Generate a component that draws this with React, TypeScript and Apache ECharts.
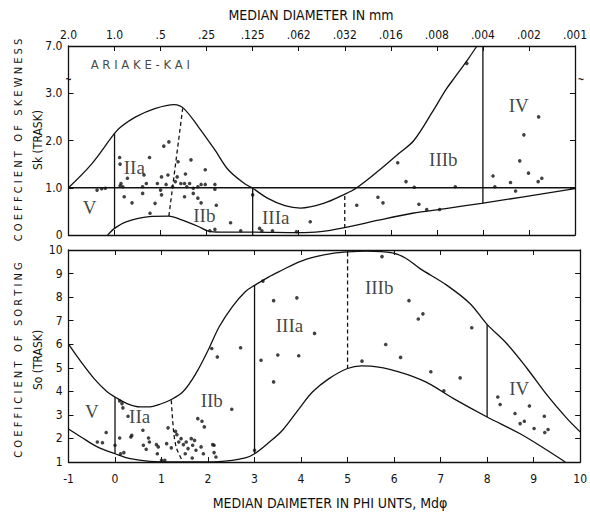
import React, { useEffect, useRef } from 'react';
import * as echarts from 'echarts';

// ---------- tick labels ----------
const phiLabels = ['-1', '0', '1', '2', '3', '4', '5', '6', '7', '8', '9', '10'];
const mmLabels = ['2.0', '1.0', '.5', '.25', '.125', '.062', '.032', '.016', '.008', '.004', '.002', '.001'];
const skTickLabels = ['0', '1.0', '2.0', '3.0', '7.0'];

// ---------- skewness panel (Sk, Trask) ----------
const skUpper = [
  [-1, 1.0], [-0.5, 1.5], [0, 2.15], [0.14, 2.29], [0.46, 2.5], [0.89, 2.68], [1.3, 2.76], [1.5, 2.68],
  [1.82, 2.29], [2.18, 1.8], [2.47, 1.38], [2.82, 1.09], [3.0, 0.99], [3.32, 0.78], [3.7, 0.62], [4.04, 0.57],
  [4.54, 0.67], [4.97, 0.85], [5.26, 1.0], [5.76, 1.38], [6.18, 1.73], [6.5, 2.0], [6.9, 2.6], [7.19, 3.27],
  [7.4, 4.4], [7.69, 5.96], [7.87, 7.0],
];
const skLower = [
  [-0.15, 0], [0, 0.14], [0.25, 0.28], [0.75, 0.39], [1.18, 0.4], [1.46, 0.32], [1.82, 0.18], [2.04, 0.08],
  [2.3, 0.06], [3.0, 0.06], [3.97, 0.05], [4.47, 0.07], [4.97, 0.15], [5.76, 0.32], [6.47, 0.46], [7.19, 0.56],
  [7.97, 0.67], [10, 0.98],
];
const skUnity = [[-1, 1.0], [10, 1.0]];
const skSolidDividers = [
  [[0, 0.14], [0, 2.15]],
  [[3, 0], [3, 0.99]],
  [[8, 0.67], [8, 7.0]],
];
const skDashedDividers = [
  [[5, 0.15], [5, 0.85]],
  [[1.18, 0.4], [1.48, 2.68]],
];
const skPoints = [
  [-0.38, 0.95], [-0.28, 0.98], [-0.2, 0.99], [0.11, 1.64], [0.12, 1.5], [0.14, 1.09], [0.12, 1.04], [0.18, 1.02],
  [0.28, 1.2], [0.21, 0.81], [0.38, 0.68], [0.76, 1.64], [0.64, 1.27], [0.61, 1.02], [0.69, 1.09], [0.61, 0.88],
  [0.88, 0.67], [0.77, 0.46], [0.93, 1.09], [1.02, 1.23], [1.0, 0.95], [1.02, 0.85], [1.07, 1.88], [1.18, 1.97],
  [1.12, 1.07], [1.16, 1.27], [1.26, 1.02], [1.32, 1.13], [1.38, 1.55], [1.36, 1.23], [1.66, 1.59], [1.54, 1.29],
  [1.44, 1.09], [1.52, 1.09], [1.57, 1.02], [1.63, 1.09], [1.71, 0.99], [1.52, 0.81], [1.71, 0.88], [1.81, 0.78],
  [1.88, 0.68], [1.81, 1.02], [1.88, 1.07], [1.97, 1.38], [1.97, 1.07], [2.18, 1.07], [2.18, 0.97], [2.21, 0.63],
  [2.52, 0.26], [2.74, 0.09], [2.18, 0.12], [2.07, 0.09], [3.0, 0.85], [3.15, 0.14], [3.2, 0.09], [3.43, 0.09],
  [3.95, 0.07], [4.25, 0.28], [5.26, 0.63], [5.72, 0.8], [5.83, 0.68], [6.15, 1.53], [6.33, 1.13], [6.51, 1.01],
  [6.61, 0.65], [6.78, 0.54], [7.06, 0.54], [7.4, 1.02], [7.65, 5.53], [8.22, 1.25], [8.26, 1.02], [8.6, 1.11],
  [8.71, 0.93], [8.8, 1.57], [8.89, 2.12], [8.99, 1.31], [9.21, 2.5], [9.2, 1.13], [9.28, 1.2],
];
const skRegions = [
  { name: 'V', phi: -0.54, sk: 0.59 },
  { name: 'IIa', phi: 0.43, sk: 1.42 },
  { name: 'IIb', phi: 1.95, sk: 0.42 },
  { name: 'IIIa', phi: 3.5, sk: 0.38 },
  { name: 'IIIb', phi: 7.14, sk: 1.59 },
  { name: 'IV', phi: 8.78, sk: 2.75 },
];
const skSiteLabel = { name: 'ARIAKE-KAI', phi: 0.56, sk: 5.4 };

// ---------- sorting panel (So, Trask) ----------
const soUpper = [
  [-1, 6.0], [-0.73, 5.25], [-0.45, 4.54], [-0.17, 3.98], [0, 3.76], [0.26, 3.48], [0.54, 3.34], [0.75, 3.34],
  [0.96, 3.45], [1.18, 3.62], [1.46, 3.98], [1.74, 4.76], [2.02, 5.82], [2.24, 6.74], [2.52, 7.59], [2.8, 8.23],
  [3.0, 8.5], [3.3, 8.85], [3.6, 9.15], [3.96, 9.5], [4.32, 9.72], [4.68, 9.86], [5, 9.92], [5.4, 9.95],
  [5.96, 9.88], [6.25, 9.65], [6.55, 9.22], [7.13, 8.51], [7.63, 7.73], [8, 6.84], [8.42, 6.03], [8.86, 4.97],
  [9.29, 3.84], [9.72, 2.84], [10, 2.28],
];
const soLower = [
  [-1, 2.4], [-0.73, 2.06], [-0.38, 1.64], [0, 1.35], [0.33, 1.14], [0.75, 1.03], [1.3, 1.0], [2.0, 1.0],
  [2.52, 1.07], [2.8, 1.17], [3.0, 1.35], [3.32, 1.85], [3.6, 2.35], [3.96, 3.27], [4.25, 3.98], [4.6, 4.54],
  [5, 4.97], [5.3, 5.08], [5.5, 5.07], [6.1, 4.83], [6.68, 4.4], [7.27, 3.7], [8, 2.91], [8.71, 2.2],
  [9.29, 1.5], [9.68, 1.0],
];
const soSolidDividers = [
  [[0, 1.35], [0, 3.76]],
  [[3, 1.35], [3, 8.5]],
  [[8, 2.91], [8, 6.84]],
];
const soDashedDividers = [
  [[5, 4.97], [5, 9.92]],
  [[1.21, 3.62], [1.26, 2.3], [1.32, 1.6], [1.46, 1.0]],
];
const soPoints = [
  [-0.38, 1.85], [-0.27, 1.82], [-0.19, 2.25], [0, 1.71], [0.1, 3.59], [0.15, 3.48], [0.17, 3.3], [0.28, 2.94],
  [0.1, 2.02], [0.12, 1.35], [0.19, 1.4], [0.34, 2.06], [0.36, 2.13], [0.6, 2.35], [0.61, 1.71], [0.72, 2.02],
  [0.74, 1.85], [0.67, 1.54], [0.89, 1.74], [0.93, 1.64], [0.91, 1.35], [1.0, 1.07], [1.07, 1.07], [1.11, 1.78],
  [1.14, 2.45], [1.21, 1.6], [1.3, 2.3], [1.33, 2.16], [1.37, 1.85], [1.42, 1.99], [1.47, 1.74], [1.53, 1.85],
  [1.57, 1.57], [1.51, 1.35], [1.64, 1.99], [1.67, 1.71], [1.71, 1.92], [1.74, 1.5], [1.66, 1.17], [1.78, 2.84],
  [1.87, 2.73], [1.92, 2.49], [1.85, 1.64], [1.9, 1.35], [2.1, 1.74], [2.13, 1.71], [2.13, 1.4], [2.17, 1.21],
  [2.08, 5.82], [2.2, 5.46], [2.51, 3.24], [2.7, 5.85], [3.0, 1.5], [3.18, 8.68], [3.14, 5.32], [3.41, 7.85],
  [3.5, 5.54], [3.41, 4.4], [3.91, 7.97], [3.95, 5.51], [4.29, 6.46], [5.31, 5.28], [5.74, 9.72], [5.82, 5.99],
  [6.14, 5.44], [6.32, 7.85], [6.52, 7.07], [6.62, 7.29], [6.79, 4.83], [7.07, 4.02], [7.42, 4.57], [7.67, 6.7],
  [8.23, 3.76], [8.28, 3.44], [8.6, 3.06], [8.71, 2.63], [8.8, 2.73], [8.91, 3.38], [9.01, 2.42], [9.23, 2.94],
  [9.24, 2.25], [9.31, 2.38],
];
const soRegions = [
  { name: 'V', phi: -0.5, so: 3.13 },
  { name: 'IIa', phi: 0.53, so: 2.92 },
  { name: 'IIb', phi: 2.08, so: 3.63 },
  { name: 'IIIa', phi: 3.75, so: 6.81 },
  { name: 'IIIb', phi: 5.68, so: 8.39 },
  { name: 'IV', phi: 8.69, so: 4.14 },
];

// broken axis: 0..3 linear, 3..7 compressed into one unit
const skAxis = (v: number) => (v <= 3 ? v : 3 + (v - 3) / 4);
const skPt = (p: number[]) => [p[0], skAxis(p[1])];

const INK = '#111111';
const NARROW = '"DejaVu Sans Condensed", "Liberation Sans Narrow", "Roboto", sans-serif';
const SERIF = '"Liberation Serif", "DejaVu Serif", serif';

const spaced = (s: string) => s.split('').join(' ');

export default function App() {
  const ref = useRef<HTMLDivElement>(null);

  useEffect(() => {
    if (!ref.current) return;
    const chart = echarts.init(ref.current, undefined, { renderer: 'svg' });

    const axisLine = { show: true, onZero: false, lineStyle: { color: INK, width: 1.3 } };
    const axisTick = { show: true, inside: true, length: 5, lineStyle: { color: INK, width: 1 } };
    const labelStyle = { color: INK, fontFamily: NARROW, fontSize: 12 };
    const xBase: any = {
      type: 'value', min: -1, max: 10, interval: 1, axisLine, axisTick,
      splitLine: { show: false }, axisLabel: { show: false },
    };
    const regionLabel = {
      show: true, position: 'inside', formatter: '{b}', color: INK,
      fontFamily: SERIF, fontSize: 19, align: 'center', verticalAlign: 'middle',
    };

    const lineSeries = (data: number[][], xi: number, yi: number, opts: any = {}) => ({
      type: 'line', xAxisIndex: xi, yAxisIndex: yi, data, symbol: 'none', silent: true,
      lineStyle: { color: INK, width: 1.3, type: opts.dashed ? [4, 3] : 'solid' },
      smooth: opts.smooth ?? false, z: 3,
    });

    const series: any[] = [
      lineSeries(skUpper.map(skPt), 0, 0, { smooth: 0.35 }),
      lineSeries(skLower.map(skPt), 0, 0, { smooth: 0.3 }),
      lineSeries(skUnity.map(skPt), 0, 0),
      ...skSolidDividers.map((d) => lineSeries(d.map(skPt), 0, 0)),
      ...skDashedDividers.map((d) => lineSeries(d.map(skPt), 0, 0, { dashed: true })),
      {
        type: 'scatter', xAxisIndex: 0, yAxisIndex: 0, data: skPoints.map(skPt),
        symbol: 'circle', symbolSize: 3.6, itemStyle: { color: INK }, z: 4,
      },
      {
        type: 'scatter', xAxisIndex: 0, yAxisIndex: 0, symbolSize: 0, silent: true,
        data: skRegions.map((r) => ({ name: r.name, value: [r.phi, skAxis(r.sk)] })),
        label: regionLabel,
        z: 5,
      },
      {
        type: 'scatter', xAxisIndex: 0, yAxisIndex: 0, symbolSize: 0, silent: true,
        data: [{ name: skSiteLabel.name, value: [skSiteLabel.phi, skAxis(skSiteLabel.sk)] }],
        label: {
          show: true, position: 'inside', align: 'center', verticalAlign: 'middle',
          formatter: (p: any) => spaced(p.name), color: INK, fontFamily: NARROW, fontSize: 13,
        },
        z: 5,
      },
      lineSeries(soUpper, 2, 2, { smooth: 0.35 }),
      lineSeries(soLower, 2, 2, { smooth: 0.35 }),
      ...soSolidDividers.map((d) => lineSeries(d, 2, 2)),
      ...soDashedDividers.map((d) => lineSeries(d, 2, 2, { dashed: true, smooth: 0.3 })),
      {
        type: 'scatter', xAxisIndex: 2, yAxisIndex: 2, data: soPoints,
        symbol: 'circle', symbolSize: 3.6, itemStyle: { color: INK }, z: 4,
      },
      {
        type: 'scatter', xAxisIndex: 2, yAxisIndex: 2, symbolSize: 0, silent: true,
        data: soRegions.map((r) => ({ name: r.name, value: [r.phi, r.so] })),
        label: regionLabel,
        z: 5,
      },
    ];

    const option: any = {
      animation: false,
      backgroundColor: '#ffffff',
      grid: [
        { left: 68.5, top: 46, right: 9, height: 189 },
        { left: 68.5, top: 250, right: 9, height: 212 },
      ],
      xAxis: [
        { ...xBase, gridIndex: 0, position: 'bottom' },
        {
          ...xBase, gridIndex: 0, position: 'top',
          axisLabel: {
            show: true, ...labelStyle, margin: 5,
            formatter: (v: number) => mmLabels[Math.round(v) + 1] ?? '',
          },
        },
        {
          ...xBase, gridIndex: 1, position: 'bottom',
          axisLabel: {
            show: true, ...labelStyle, margin: 11,
            formatter: (v: number) => phiLabels[Math.round(v) + 1] ?? '',
          },
        },
        { ...xBase, gridIndex: 1, position: 'top' },
      ],
      yAxis: [
        {
          type: 'value', gridIndex: 0, position: 'left', min: 0, max: 4, interval: 1,
          axisLine, axisTick, splitLine: { show: false },
          axisLabel: {
            show: true, ...labelStyle, margin: 6,
            formatter: (v: number) => skTickLabels[Math.round(v)] ?? '',
          },
        },
        {
          type: 'value', gridIndex: 0, position: 'right', min: 0, max: 4, interval: 1,
          axisLine, axisTick, splitLine: { show: false }, axisLabel: { show: false },
        },
        {
          type: 'value', gridIndex: 1, position: 'left', min: 1, max: 10, interval: 1,
          axisLine, axisTick, splitLine: { show: false },
          axisLabel: { show: true, ...labelStyle, margin: 6 },
        },
        {
          type: 'value', gridIndex: 1, position: 'right', min: 1, max: 10, interval: 1,
          axisLine, axisTick, splitLine: { show: false }, axisLabel: { show: false },
        },
      ],
      graphic: [
        {
          type: 'text', x: 311, y: 15,
          style: {
            text: 'MEDIAN DIAMETER IN mm', fontFamily: NARROW, fontSize: 14, fill: INK,
            align: 'center', verticalAlign: 'middle',
          },
        },
        {
          type: 'text', x: 330, y: 503,
          style: {
            text: 'MEDIAN DAIMETER IN PHI UNTS, Mdφ', fontFamily: NARROW, fontSize: 14, fill: INK,
            align: 'center', verticalAlign: 'middle',
          },
        },
        {
          type: 'text', x: 18, y: 140, rotation: Math.PI / 2,
          style: {
            text: spaced('COEFFCIENT OF SKEWNESS'), fontFamily: NARROW, fontSize: 11, fill: INK,
            align: 'center', verticalAlign: 'middle',
          },
        },
        {
          type: 'text', x: 38, y: 140, rotation: Math.PI / 2,
          style: {
            text: 'Sk (TRASK)', fontFamily: NARROW, fontSize: 12, fill: INK,
            align: 'center', verticalAlign: 'middle',
          },
        },
        {
          type: 'text', x: 18, y: 360, rotation: Math.PI / 2,
          style: {
            text: spaced('COEFFICIENT OF SORTING'), fontFamily: NARROW, fontSize: 11, fill: INK,
            align: 'center', verticalAlign: 'middle',
          },
        },
        {
          type: 'text', x: 38, y: 360, rotation: Math.PI / 2,
          style: {
            text: 'So (TRASK)', fontFamily: NARROW, fontSize: 12, fill: INK,
            align: 'center', verticalAlign: 'middle',
          },
        },
        {
          type: 'text', x: 68.5, y: 79,
          style: { text: '~', fontSize: 10, fontWeight: 'bold', fill: INK, align: 'center', verticalAlign: 'middle' },
        },
        {
          type: 'text', x: 581, y: 79,
          style: { text: '~', fontSize: 10, fontWeight: 'bold', fill: INK, align: 'center', verticalAlign: 'middle' },
        },
      ],
      series,
    };

    chart.setOption(option);
    return () => chart.dispose();
  }, []);

  return (
    <div
      ref={ref}
      style={{ position: 'absolute', left: 0, top: 0, width: 590, height: 516, background: '#fff' }}
    />
  );
}
